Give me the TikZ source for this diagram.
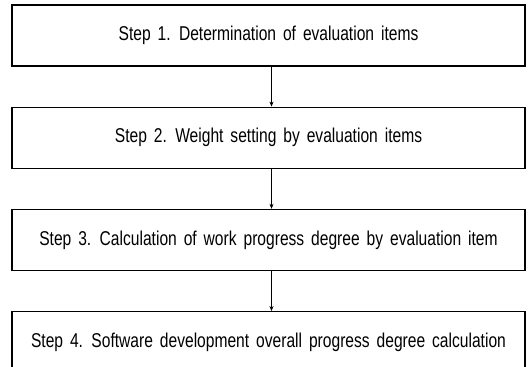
\documentclass[tikz,border=0pt]{standalone}
\usepackage{fontspec}
\setmainfont{Liberation Sans}[FakeStretch=0.78,WordSpace=1.6]
\usetikzlibrary{positioning,arrows.meta}
\tikzset{
    stepbox/.style={draw,line width=1.2pt,minimum width=513pt,minimum height=61pt,
      inner sep=0pt,font=\fontsize{20}{24}\selectfont},
    flow/.style={draw,line width=0.6pt,-{Stealth[length=5pt,width=4pt]}},
  }

\begin{document}
\begin{tikzpicture}[x=1pt,y=1pt,node distance=40pt]
				  \useasboundingbox (0,0) rectangle (528,-367);
				  %STEPS
				  \node[stepbox] (s1) at (268.5,-35.5) {Step 1. Determination of evaluation items};
				  \node[stepbox,below=of s1] (s2) {Step 2. Weight setting by evaluation items};
				  \node[stepbox,below=of s2] (s3) {Step 3. Calculation of work progress degree by evaluation item};
				  \node[stepbox,below=of s3] (s4) {Step 4. Software development overall progress degree calculation};
				  %ARROWS
				  \foreach \a/\b in {s1/s2,s2/s3,s3/s4}
				    \draw[flow] ([xshift=3pt]\a.south) -- ([xshift=3pt]\b.north);
\end{tikzpicture}
\end{document}
